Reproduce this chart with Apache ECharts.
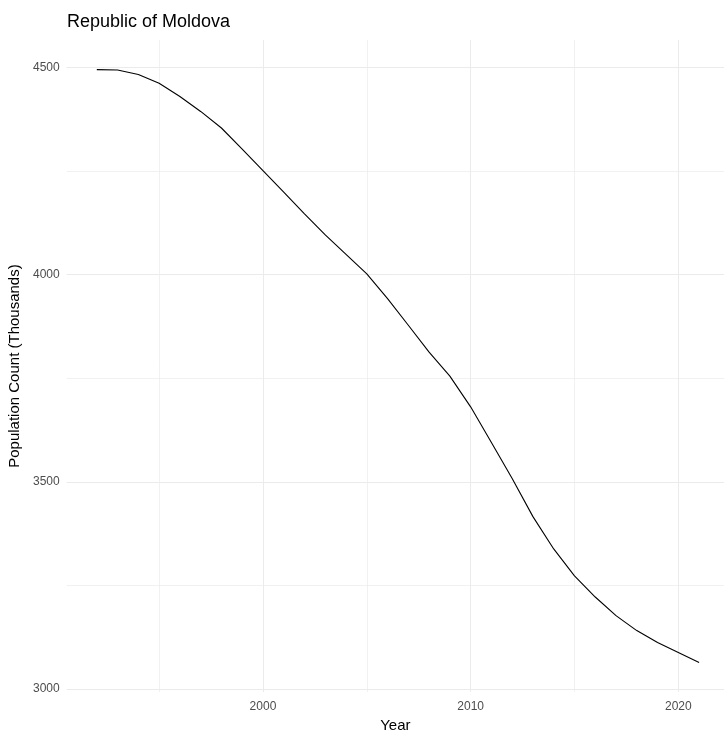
<!DOCTYPE html>
<html>
<head>
<meta charset="utf-8">
<script src="https://cdn.jsdelivr.net/npm/echarts@6/dist/echarts.min.js"></script>
<style>
  html, body { margin: 0; padding: 0; background: #ffffff; }
  #chart { width: 724px; height: 732px; }
</style>
</head>
<body>
<div id="chart"></div>
<script>
// ---- data ----
const titleText = 'Republic of Moldova';
const xAxisTitle = 'Year';
const yAxisTitle = 'Population Count (Thousands)';
const years = [1992, 1993, 1994, 1995, 1996, 1997, 1998, 1999, 2000, 2001,
               2002, 2003, 2004, 2005, 2006, 2007, 2008, 2009, 2010, 2011,
               2012, 2013, 2014, 2015, 2016, 2017, 2018, 2019, 2020, 2021];
const population = [4495, 4494, 4483, 4462, 4430, 4394, 4354, 4303, 4251, 4199,
                    4147, 4096, 4049, 4002, 3942, 3878, 3813, 3755, 3681, 3595,
                    3508, 3416, 3338, 3273, 3222, 3177, 3141, 3112, 3088, 3064];
const xTickLabels = [2000, 2010, 2020];
const yTickLabels = [3000, 3500, 4000, 4500];

// axis ranges (ggplot-style 5% expansion)
const xRange = [1990.55, 2022.2];
const yRange = [2992.5, 4566.4];

const FONT = '"Liberation Sans", Arial, Helvetica, sans-serif';
const GRID_COLOR = '#EBEBEB';

const chart = echarts.init(document.getElementById('chart'), null, { renderer: 'canvas' });

const seriesData = years.map((y, i) => [y, population[i]]);

chart.setOption({
  animation: false,
  backgroundColor: '#ffffff',
  title: {
    text: titleText,
    left: 62,
    top: 8,
    textStyle: { fontFamily: FONT, fontSize: 18, fontWeight: 'normal', color: '#000000' }
  },
  grid: {
    left: 66.7, right: 0, top: 40, bottom: 39.9,
    containLabel: false,
    outerBoundsMode: 'none'
  },
  xAxis: [
    {
      type: 'value',
      min: xRange[0], max: xRange[1],
      minInterval: 10, maxInterval: 10,
      axisLine: { show: false },
      axisTick: { show: false },
      axisLabel: {
        show: true,
        margin: 9,
        fontFamily: FONT, fontSize: 12, color: '#4D4D4D',
        showMinLabel: false, showMaxLabel: false,
        formatter: v => (xTickLabels.indexOf(Math.round(v)) >= 0 && Math.abs(v - Math.round(v)) < 1e-6) ? String(Math.round(v)) : ''
      },
      splitLine: { show: true, showMinLine: false, showMaxLine: false, lineStyle: { color: GRID_COLOR, width: 1 } },
      name: xAxisTitle,
      nameLocation: 'middle',
      nameGap: 22,
      nameTextStyle: { fontFamily: FONT, fontSize: 15, color: '#000000' }
    },
    {
      type: 'value',
      min: xRange[0], max: xRange[1],
      minInterval: 5, maxInterval: 5,
      position: 'bottom',
      axisLine: { show: false },
      axisTick: { show: false },
      axisLabel: { show: false },
      splitLine: { show: true, showMinLine: false, showMaxLine: false, lineStyle: { color: GRID_COLOR, width: 0.7 } }
    }
  ],
  yAxis: [
    {
      type: 'value',
      min: yRange[0], max: yRange[1],
      minInterval: 500, maxInterval: 500,
      axisLine: { show: false },
      axisTick: { show: false },
      axisLabel: {
        show: true,
        margin: 7,
        fontFamily: FONT, fontSize: 12, color: '#4D4D4D',
        showMinLabel: false, showMaxLabel: false,
        formatter: v => (yTickLabels.indexOf(Math.round(v)) >= 0 && Math.abs(v - Math.round(v)) < 1e-6) ? String(Math.round(v)) : ''
      },
      splitLine: { show: true, showMinLine: false, showMaxLine: false, lineStyle: { color: GRID_COLOR, width: 1 } },
      name: yAxisTitle,
      nameLocation: 'middle',
      nameGap: 37,
      nameRotate: 90,
      nameTextStyle: { fontFamily: FONT, fontSize: 15, color: '#000000' }
    },
    {
      type: 'value',
      min: yRange[0], max: yRange[1],
      minInterval: 250, maxInterval: 250,
      position: 'left',
      axisLine: { show: false },
      axisTick: { show: false },
      axisLabel: { show: false },
      splitLine: { show: true, showMinLine: false, showMaxLine: false, lineStyle: { color: GRID_COLOR, width: 0.7 } }
    }
  ],
  series: [
    {
      type: 'line',
      xAxisIndex: 0,
      yAxisIndex: 0,
      data: seriesData,
      showSymbol: false,
      symbol: 'none',
      smooth: false,
      lineStyle: { color: '#000000', width: 1.1 },
      z: 5
    }
  ]
});
</script>
</body>
</html>
